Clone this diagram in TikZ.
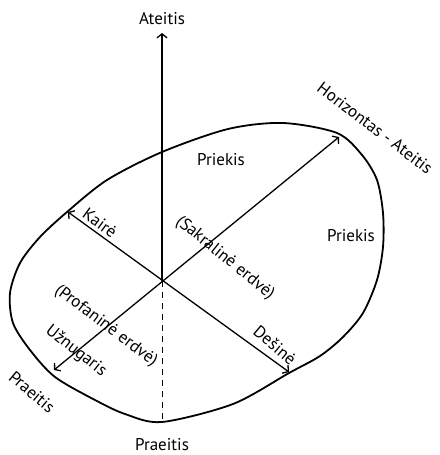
\documentclass[tikz,border=0pt]{standalone}
\usepackage{fontspec}
\setmainfont{PT Sans}
\usetikzlibrary{arrows.meta, positioning, calc}

\begin{document}
\begin{tikzpicture}[x=1pt, y=-1pt, >={Straight Barb[length=4pt,width=10pt]},
  axis/.style={line width=1.3pt},
  lbl/.style={font=\fontsize{17}{18}\selectfont, inner sep=0pt}]
  \useasboundingbox (0,0) rectangle (439,455);

  % Egg
  \draw[line width=1.8pt] plot[smooth cycle, tension=0.5] coordinates {
    (283,123) (337,133) (362,155) (377,180) (383,213) (383,247) (377,280)
    (363,313) (343,337) (320,356) (289,373) (233,404) (162,422) (125,414)
    (95,400) (55,377) (30,350) (13,323) (10,293) (20,263) (40,237)
    (67,212) (107,180) (162,152) (228,129)};

  % Axes
  \coordinate (O) at (162,281);
  \coordinate (up) at (162,33);
  \coordinate (down) at (162,422);
  \coordinate (kaire) at (68,212);
  \coordinate (desine) at (289,372);
  \coordinate (horiz) at (339,137);
  \coordinate (uzn) at (54,370);
  \draw[axis, ->] (O) -- (up);
  \draw[line width=0.9pt, dash pattern=on 6pt off 5pt] (O) -- (down);
  \draw[axis, <->] (kaire) -- (desine);
  \draw[axis, <->] (uzn) -- (horiz);

  % Labels
  \node[lbl] (ateitis) at (162,19) {Ateitis};
  \node[lbl] (praeitis) at (162,445) {Praeitis};
  \node[lbl] (priekis1) at (221,160) {Priekis};
  \node[lbl] (priekis2) at (351,236) {Priekis};
  \node[lbl, rotate=-37] (horizontas) at (375,128) {Horizontas - Ateitis};
  \node[lbl, rotate=-36] (kairelbl) at (100,223) {Kairė};
  \node[lbl, rotate=-39] (sakr) at (225,258) {(Sakralinė erdvė)};
  \node[lbl, rotate=-37] (prof) at (106,326) {(Profaninė erdvė)};
  \node[lbl, rotate=-38] (uznlbl) at (76,351) {Užnugaris};
  \node[lbl, rotate=-40] (desinelbl) at (275,345) {Dešinė};
  \node[lbl, rotate=-40] (praeitis2) at (32,392) {Praeitis};
\end{tikzpicture}
\end{document}
